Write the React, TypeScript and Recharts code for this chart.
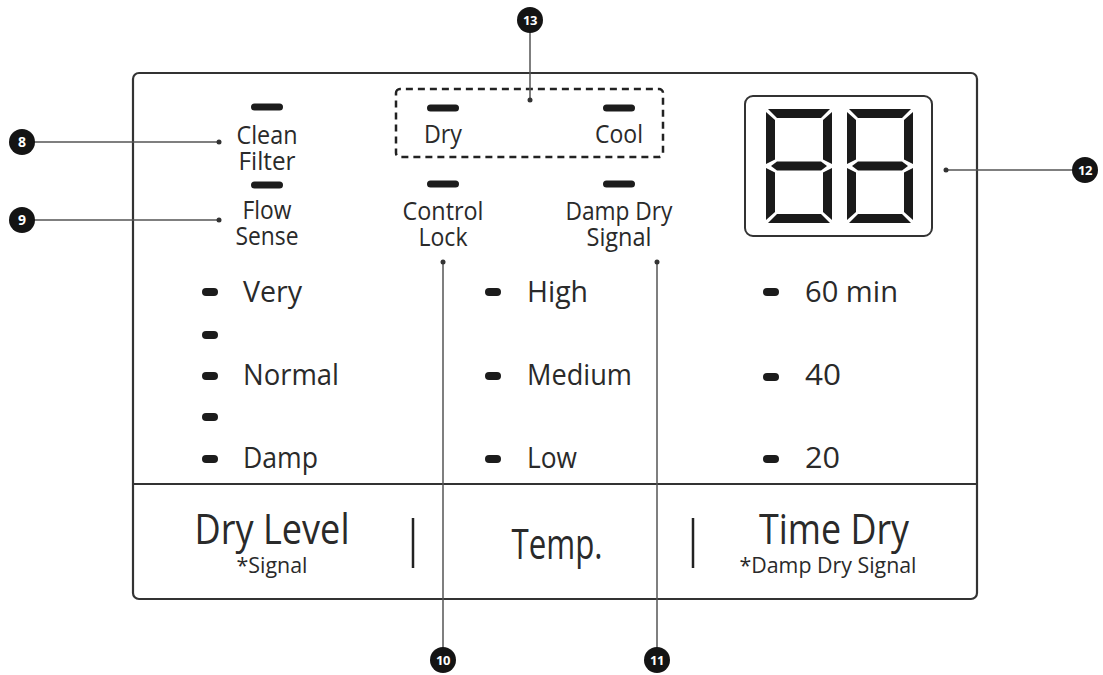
import React from 'react';
import { ComposedChart, XAxis, YAxis, Scatter, ReferenceArea, ReferenceLine } from 'recharts';

const W = 1103;
const H = 675;
const FONT = "'Open Sans', 'Noto Sans', sans-serif";
const INK = '#2a2a2a';

// ---- frame geometry (diagram units = pixels of the source) ----
const panelFrame = { x1: 133, x2: 977, y1: 73, y2: 599 };
const dividerLine = [{ x: 133, y: 484 }, { x: 977, y: 484 }];
const modeBox = { x1: 396, x2: 663, y1: 89, y2: 157 };
const displayFrame = { x1: 745, x2: 932, y1: 96, y2: 236 };
const separators = [
  [{ x: 413, y: 518 }, { x: 413, y: 568 }],
  [{ x: 693, y: 518 }, { x: 693, y: 568 }],
];

// ---- indicator LEDs ----
const indicatorLeds = [
  { x: 267, y: 107 },
  { x: 267, y: 185 },
  { x: 443, y: 108 },
  { x: 619, y: 108 },
  { x: 443, y: 184 },
  { x: 619, y: 184 },
];
const optionLeds = [
  { x: 210, y: 292 },
  { x: 210, y: 335 },
  { x: 210, y: 376 },
  { x: 210, y: 417 },
  { x: 210, y: 459 },
  { x: 493, y: 292 },
  { x: 493, y: 376 },
  { x: 493, y: 459 },
  { x: 771, y: 292 },
  { x: 771, y: 377 },
  { x: 771, y: 459 },
];

// ---- texts ----
const indicatorTexts = [
  { lines: ['Clean', 'Filter'], fits: [61, 57], x: 267, y: 144 },
  { lines: ['Flow', 'Sense'], fits: [49, 63], x: 267, y: 219 },
  { lines: ['Dry'], fits: [38], x: 443, y: 143 },
  { lines: ['Cool'], fits: [48], x: 619, y: 143 },
  { lines: ['Control', 'Lock'], fits: [81, 49], x: 443, y: 220 },
  { lines: ['Damp Dry', 'Signal'], fits: [107, 65], x: 619, y: 220 },
];
const optionTexts = [
  { text: 'Very', x: 243, y: 302, fit: 59 },
  { text: 'Normal', x: 243, y: 385, fit: 96 },
  { text: 'Damp', x: 243, y: 468, fit: 75 },
  { text: 'High', x: 527, y: 302, fit: 61 },
  { text: 'Medium', x: 527, y: 385, fit: 105 },
  { text: 'Low', x: 527, y: 468, fit: 50 },
  { text: '60 min', x: 805, y: 302, fit: 93 },
  { text: '40', x: 805, y: 385, fit: 36 },
  { text: '20', x: 805, y: 468, fit: 35 },
];
const buttonTitles = [
  { text: 'Dry Level', x: 272, y: 544, fit: 155 },
  { text: 'Temp.', x: 557, y: 559, fit: 91 },
  { text: 'Time Dry', x: 834, y: 544, fit: 150 },
];
const buttonNotes = [
  { text: '*Signal', x: 272, y: 573, fit: 71 },
  { text: '*Damp Dry Signal', x: 828, y: 573, fit: 177 },
];

// ---- seven-segment display ----
const digitAnchors = [
  { x: 766, y: 109 },
  { x: 847, y: 109 },
];

// ---- callouts ----
const callouts = [
  { label: '8', x: 22, y: 142, tx: 219, ty: 142 },
  { label: '9', x: 22, y: 220, tx: 219, ty: 220 },
  { label: '13', x: 530, y: 20, tx: 530, ty: 100 },
  { label: '12', x: 1085, y: 170, tx: 946, ty: 170 },
  { label: '10', x: 443, y: 660, tx: 443, ty: 262 },
  { label: '11', x: 657, y: 660, tx: 657, ty: 262 },
];
const calloutTargets = callouts.map((c) => ({ x: c.tx, y: c.ty }));

const LINE_GAP = 25.5;

const BigLed = (p: any) => (
  <rect x={p.cx - 16} y={p.cy - 3.5} width={32} height={7} rx={3.5} fill="#1c1c1c" />
);
const SmallLed = (p: any) => (
  <rect x={p.cx - 8} y={p.cy - 4} width={16} height={8} rx={4} fill="#1c1c1c" />
);

const makeText = (size: number, anchor: string) => (p: any) => (
  <text
    x={p.cx}
    y={p.cy}
    textAnchor={anchor}
    fontFamily={FONT}
    fontSize={size}
    fill={INK}
    textLength={p.payload.fit}
    lengthAdjust="spacingAndGlyphs"
  >
    {p.payload.text}
  </text>
);

const StackedText = (p: any) => (
  <text textAnchor="middle" fontFamily={FONT} fontSize={25} fill={INK}>
    {p.payload.lines.map((line: string, i: number) => (
      <tspan
        key={i}
        x={p.cx}
        y={p.cy + i * LINE_GAP}
        textLength={p.payload.fits[i]}
        lengthAdjust="spacingAndGlyphs"
      >
        {line}
      </tspan>
    ))}
  </text>
);

const DW = 66;
const DH = 114;
const T = 9;
const G = 2;
const M = DH / 2;
const segments: number[][][] = [
  [[G, 0], [DW - G, 0], [DW - G - T, T], [G + T, T]],
  [[G, DH], [DW - G, DH], [DW - G - T, DH - T], [G + T, DH - T]],
  [[0, G + 1], [T, T + G], [T, M - T / 2 - G], [0, M - G]],
  [[0, M + G], [T, M + T / 2 + G], [T, DH - T - G], [0, DH - G - 1]],
  [[DW, G + 1], [DW - T, T + G], [DW - T, M - T / 2 - G], [DW, M - G]],
  [[DW, M + G], [DW - T, M + T / 2 + G], [DW - T, DH - T - G], [DW, DH - G - 1]],
  [[G + 3, M], [T + G, M - T / 2], [DW - T - G, M - T / 2], [DW - G - 3, M], [DW - T - G, M + T / 2], [T + G, M + T / 2]],
];
const Digit = (p: any) => (
  <g>
    {segments.map((s, i) => (
      <polygon key={i} points={s.map(([a, b]) => `${p.cx + a},${p.cy + b}`).join(' ')} fill="#1a1a1a" />
    ))}
  </g>
);

const Marker = (p: any) => (
  <g>
    <circle cx={p.cx} cy={p.cy} r={13} fill="#141414" />
    <text
      x={p.cx}
      y={p.cy + 5}
      textAnchor="middle"
      fontFamily={FONT}
      fontWeight={700}
      fontSize={p.payload.label.length > 1 ? 13 : 14}
      letterSpacing={p.payload.label.length > 1 ? -0.5 : 0}
      fill="#fff"
    >
      {p.payload.label}
    </text>
  </g>
);
const TargetDot = (p: any) => <circle cx={p.cx} cy={p.cy} r={2.5} fill="#333" />;

export default function App() {
  return (
    <div style={{ position: 'absolute', left: 0, top: 0, width: W, height: H, background: '#fff' }}>
      <ComposedChart width={W} height={H} margin={{ top: 0, right: 0, bottom: 0, left: 0 }}>
        <XAxis type="number" dataKey="x" domain={[0, W]} hide allowDataOverflow />
        <YAxis type="number" dataKey="y" domain={[0, H]} reversed hide allowDataOverflow />

        <ReferenceArea {...panelFrame} fill="#fff" fillOpacity={0} stroke="#333" strokeWidth={2.2} radius={6} ifOverflow="visible" />
        <ReferenceLine segment={dividerLine} stroke="#333" strokeWidth={2} ifOverflow="visible" />
        <ReferenceArea {...modeBox} fill="#fff" fillOpacity={0} stroke="#222" strokeWidth={2.5} strokeDasharray="7 5" radius={4} ifOverflow="visible" />
        <ReferenceArea {...displayFrame} fill="#fff" fillOpacity={0} stroke="#333" strokeWidth={2} radius={8} ifOverflow="visible" />
        {separators.map((s, i) => (
          <ReferenceLine key={`sep${i}`} segment={s} stroke="#222" strokeWidth={2.5} ifOverflow="visible" />
        ))}
        {callouts.map((c, i) => (
          <ReferenceLine
            key={`co${i}`}
            segment={[{ x: c.x, y: c.y }, { x: c.tx, y: c.ty }]}
            stroke="#555"
            strokeWidth={1.5}
            ifOverflow="visible"
          />
        ))}

        <Scatter data={indicatorLeds} shape={BigLed} isAnimationActive={false} />
        <Scatter data={optionLeds} shape={SmallLed} isAnimationActive={false} />
        <Scatter data={indicatorTexts} shape={StackedText} isAnimationActive={false} />
        <Scatter data={optionTexts} shape={makeText(30, 'start')} isAnimationActive={false} />
        <Scatter data={buttonTitles} shape={makeText(42, 'middle')} isAnimationActive={false} />
        <Scatter data={buttonNotes} shape={makeText(21, 'middle')} isAnimationActive={false} />
        <Scatter data={digitAnchors} shape={Digit} isAnimationActive={false} />
        <Scatter data={calloutTargets} shape={TargetDot} isAnimationActive={false} />
        <Scatter data={callouts} shape={Marker} isAnimationActive={false} />
      </ComposedChart>
    </div>
  );
}
